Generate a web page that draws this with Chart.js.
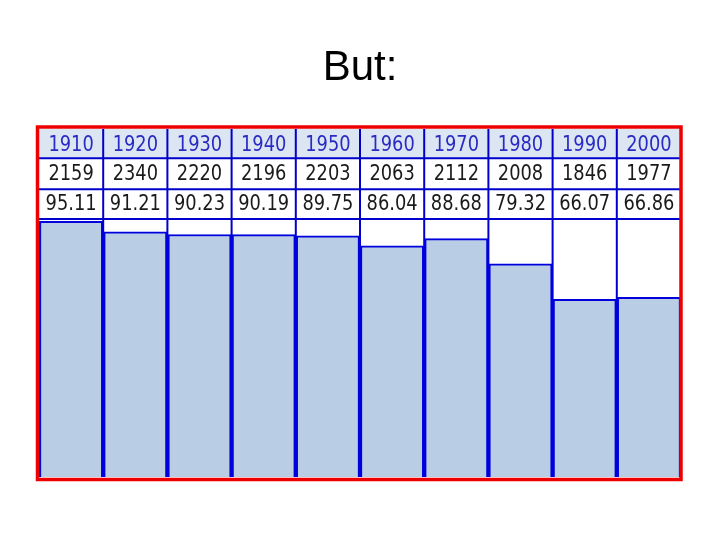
<!DOCTYPE html>
<html>
<head>
<meta charset="utf-8">
<script src="https://cdn.jsdelivr.net/npm/chart.js@4/dist/chart.umd.min.js"></script>
<style>
  body { margin: 0; background: #fff; }
</style>
</head>
<body>
<canvas id="barChart" width="720" height="540"></canvas>
<script>
const years = ['1910', '1920', '1930', '1940', '1950', '1960', '1970', '1980', '1990', '2000'];
const counts = [2159, 2340, 2220, 2196, 2203, 2063, 2112, 2008, 1846, 1977];
const percents = [95.11, 91.21, 90.23, 90.19, 89.75, 86.04, 88.68, 79.32, 66.07, 66.86];

const tableFont = '22px "DejaVu Sans Condensed", "DejaVu Sans", sans-serif';

// squeeze the text a bit so it looks like the narrow original
function narrowText(ctx, txt, cx, cy) {
  const w = ctx.measureText(txt).width;
  ctx.fillText(txt, cx, cy, w * 0.9);
}

// table rows drawn above the chart area, lined up with the x scale
const tablePlugin = {
  id: 'tableRows',
  beforeDatasetsDraw(chart) {
    const ctx = chart.ctx;
    const x = chart.scales.x;
    const step = x.width / years.length;
    ctx.save();
    ctx.fillStyle = '#dce6f2';
    ctx.fillRect(x.left, 129, x.width, 29);
    ctx.strokeStyle = '#0000cc';
    ctx.lineWidth = 2;
    for (let i = 1; i < years.length; i++) {
      const px = x.getPixelForValue(i) - step / 2;
      ctx.beginPath();
      ctx.moveTo(px, 129);
      ctx.lineTo(px, chart.chartArea.bottom);
      ctx.stroke();
    }
    ctx.restore();
  },
  afterDatasetsDraw(chart) {
    const ctx = chart.ctx;
    const x = chart.scales.x;
    ctx.save();
    ctx.strokeStyle = '#0000cc';
    ctx.lineWidth = 2;
    [158.3, 189.3, 219].forEach(y => {
      ctx.beginPath();
      ctx.moveTo(x.left, y);
      ctx.lineTo(x.right, y);
      ctx.stroke();
    });
    ctx.font = tableFont;
    ctx.textAlign = 'center';
    ctx.textBaseline = 'middle';
    years.forEach((yr, i) => {
      const cx = x.getPixelForValue(i);
      ctx.fillStyle = '#2a2ac4';
      narrowText(ctx, yr, cx, 145);
      ctx.fillStyle = '#1a1a1a';
      narrowText(ctx, String(counts[i]), cx, 174);
      narrowText(ctx, percents[i].toFixed(2), cx, 204);
    });
    // red frame
    ctx.strokeStyle = '#ee0000';
    ctx.lineWidth = 3.5;
    ctx.strokeRect(37.5, 127, 643.5, 352.5);
    ctx.restore();
  }
};

const barCanvas = document.getElementById('barChart').getContext('2d');

new Chart(barCanvas, {
  type: 'bar',
  data: {
    labels: years,
    datasets: [{
      data: percents,
      backgroundColor: '#b9cde4',
      borderColor: '#0000dd',
      borderWidth: { top: 2, left: 2.5, right: 2.5, bottom: 0 },
      borderSkipped: false,
      barPercentage: 1,
      categoryPercentage: 1
    }]
  },
  options: {
    responsive: false,
    animation: false,
    layout: { padding: { left: 39, right: 39, top: 0, bottom: 63 } },
    plugins: {
      legend: { display: false },
      tooltip: { enabled: false },
      title: {
        display: true,
        text: 'But:',
        color: '#000',
        font: { family: '"Liberation Sans", Arial, sans-serif', size: 42, weight: 'normal', lineHeight: 1 },
        padding: { top: 47, bottom: 130 }
      }
    },
    scales: {
      x: { display: false },
      y: { display: false, min: 0, max: 96 }
    }
  },
  plugins: [tablePlugin]
});
</script>
</body>
</html>
